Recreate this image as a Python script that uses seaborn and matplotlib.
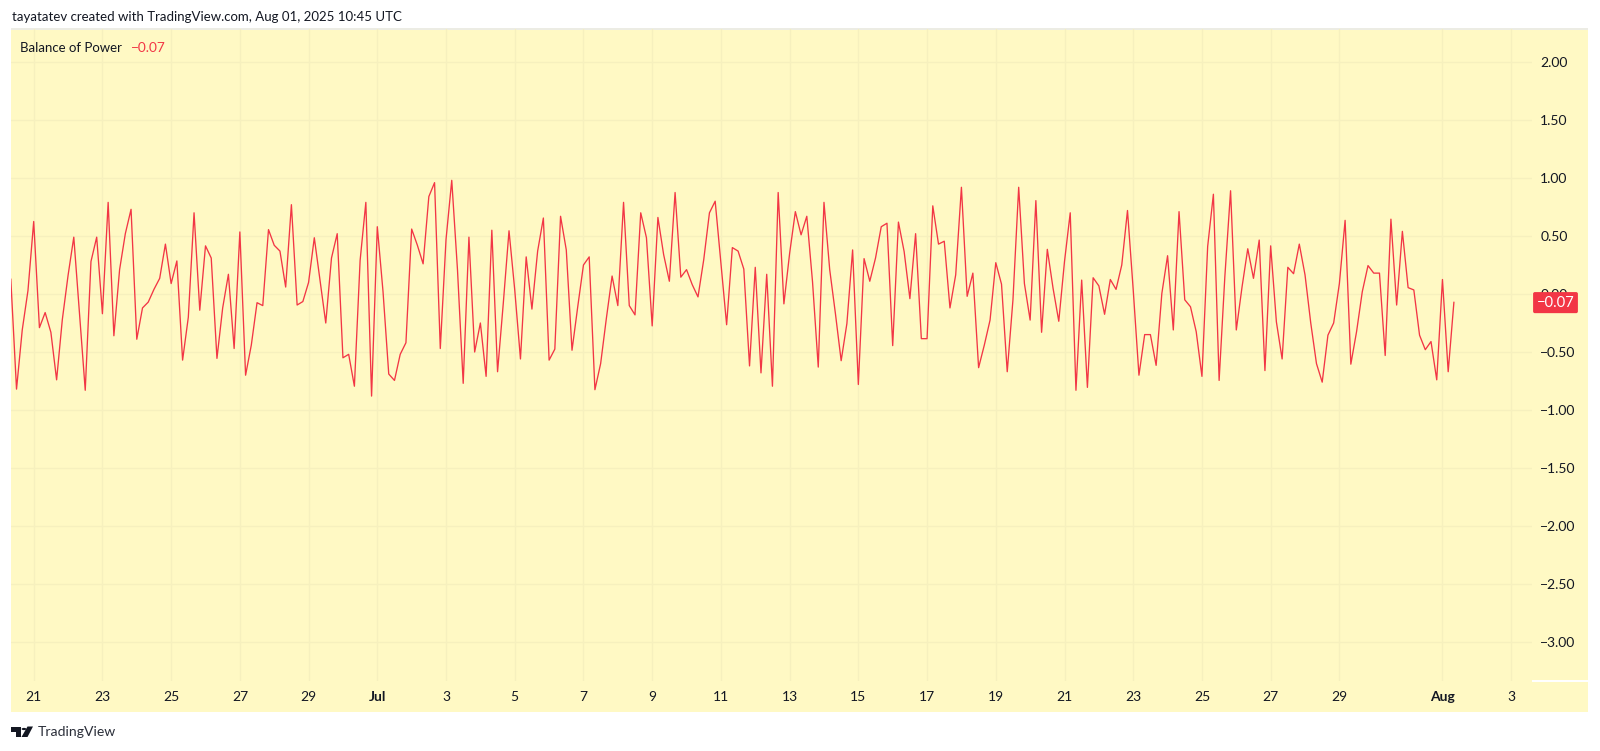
import pandas as pd
import seaborn as sns
import matplotlib.pyplot as plt
import matplotlib.dates as mdates
from matplotlib.patches import Polygon, Rectangle, Circle

FIG_W, FIG_H = 1600, 751
PANE_L, PANE_R, PANE_T, PANE_B = 11, 1532, 29, 681

BG = '#FFF9C4'
GRID = '#F6F0BE'
RED = '#F23645'
TEXT = '#131722'

# 4h bars
start = '2025-06-20 08:00'
bop = [
    0.13, -0.82, -0.31, 0.03, 0.625, -0.29, -0.16, -0.33, -0.74, -0.22,
    0.16, 0.49, -0.17, -0.83, 0.28, 0.49, -0.17, 0.79, -0.36, 0.21,
    0.52, 0.73, -0.39, -0.12, -0.07, 0.04, 0.135, 0.43, 0.09, 0.285,
    -0.57, -0.20, 0.70, -0.14, 0.415, 0.31, -0.555, -0.12, 0.17, -0.47,
    0.535, -0.70, -0.44, -0.075, -0.10, 0.555, 0.42, 0.37, 0.06, 0.77,
    -0.095, -0.065, 0.10, 0.485, 0.12, -0.25, 0.31, 0.52, -0.55, -0.52,
    -0.795, 0.29, 0.79, -0.88, 0.58, 0.02, -0.69, -0.745, -0.52, -0.42,
    0.56, 0.42, 0.26, 0.84, 0.96, -0.47, 0.47, 0.98, 0.21, -0.77,
    0.49, -0.50, -0.25, -0.71, 0.55, -0.67, -0.08, 0.545, 0.035, -0.56,
    0.32, -0.13, 0.37, 0.655, -0.57, -0.475, 0.67, 0.38, -0.485, -0.11,
    0.25, 0.32, -0.825, -0.60, -0.21, 0.155, -0.10, 0.79, -0.10, -0.18,
    0.70, 0.485, -0.275, 0.66, 0.34, 0.11, 0.875, 0.145, 0.21, 0.08,
    -0.025, 0.295, 0.70, 0.80, 0.265, -0.265, 0.40, 0.37, 0.215, -0.62,
    0.23, -0.68, 0.17, -0.795, 0.875, -0.085, 0.35, 0.71, 0.51, 0.67,
    0.105, -0.63, 0.79, 0.21, -0.17, -0.575, -0.255, 0.38, -0.78, 0.305,
    0.11, 0.31, 0.58, 0.61, -0.445, 0.62, 0.365, -0.04, 0.52, -0.385,
    -0.385, 0.76, 0.43, 0.455, -0.12, 0.165, 0.92, -0.02, 0.18, -0.635,
    -0.44, -0.225, 0.27, 0.085, -0.67, -0.05, 0.92, 0.09, -0.225, 0.805,
    -0.33, 0.385, 0.05, -0.235, 0.28, 0.70, -0.83, 0.12, -0.805, 0.14,
    0.07, -0.175, 0.125, 0.04, 0.25, 0.72, 0.035, -0.70, -0.35, -0.35,
    -0.615, 0.005, 0.33, -0.31, 0.71, -0.05, -0.11, -0.325, -0.71, 0.41,
    0.86, -0.745, 0.15, 0.89, -0.31, 0.06, 0.39, 0.135, 0.465, -0.66,
    0.415, -0.24, -0.56, 0.23, 0.175, 0.43, 0.165, -0.25, -0.60, -0.76,
    -0.355, -0.25, 0.09, 0.635, -0.605, -0.325, 0.02, 0.245, 0.18, 0.18,
    -0.53, 0.645, -0.095, 0.54, 0.055, 0.035, -0.355, -0.48, -0.41, -0.74,
    0.125, -0.67, -0.07,
]
tick_dates = ['2025-06-21', '2025-06-23', '2025-06-25', '2025-06-27', '2025-06-29',
              '2025-07-01', '2025-07-03', '2025-07-05', '2025-07-07', '2025-07-09',
              '2025-07-11', '2025-07-13', '2025-07-15', '2025-07-17', '2025-07-19',
              '2025-07-21', '2025-07-23', '2025-07-25', '2025-07-27', '2025-07-29',
              '2025-08-01', '2025-08-03']
tick_labels = ['21', '23', '25', '27', '29', 'Jul', '3', '5', '7', '9', '11', '13',
               '15', '17', '19', '21', '23', '25', '27', '29', 'Aug', '3']
y_ticks = [2.0, 1.5, 1.0, 0.5, 0.0, -0.5, -1.0, -1.5, -2.0, -2.5, -3.0]

sns.set_theme(style='white')
plt.rcParams['font.family'] = ['Lato', 'DejaVu Sans']

df = pd.DataFrame({'time': pd.date_range(start, periods=len(bop), freq='4h'), 'bop': bop})

fig = plt.figure(figsize=(FIG_W / 100, FIG_H / 100), dpi=100, facecolor='white')

def px_box(l, t, r, b):
    return [l / FIG_W, 1 - b / FIG_H, (r - l) / FIG_W, (b - t) / FIG_H]

def px(x, y):
    return x / FIG_W, 1 - y / FIG_H

def minus(v):
    return f'{v:.2f}'.replace('-', '\u2212')

# whole yellow panel incl. price and time scale
l, bot, w, h = px_box(11, 29, 1588, 712)
fig.add_artist(Rectangle((l, bot), w, h, transform=fig.transFigure, facecolor=BG, edgecolor='none', zorder=-5))
fig.add_artist(Rectangle((l, 1 - 30 / FIG_H), w, 1.5 / FIG_H, transform=fig.transFigure, facecolor='#ECECE4', edgecolor='none', zorder=-4))

ax = fig.add_axes(px_box(PANE_L, PANE_T, PANE_R, PANE_B))
ax.patch.set_alpha(0)
sns.lineplot(data=df, x='time', y='bop', ax=ax, color=RED, linewidth=0.95, errorbar=None, zorder=3)

# axis limits so the scales land on the same pixels as the screenshot
day_px = 34.36
x0 = mdates.date2num(pd.Timestamp('2025-06-21'))
ax.set_xlim(x0 + (PANE_L - 33.7) / day_px, x0 + (PANE_R - 33.7) / day_px)
ax.set_ylim((294 - PANE_B) / 116, (294 - PANE_T) / 116)

ax.set_xlabel('')
ax.set_ylabel('')
ax.set_xticks(pd.to_datetime(tick_dates))
ax.set_xticklabels(tick_labels)
ax.yaxis.tick_right()
ax.set_yticks(y_ticks)
ax.set_yticklabels([minus(v) for v in y_ticks])
ax.tick_params(axis='x', length=0, pad=7.5, labelsize=10, labelcolor=TEXT)
ax.tick_params(axis='y', length=0, pad=6, labelsize=10, labelcolor=TEXT)
for lab, txt in zip(ax.get_xticklabels(), tick_labels):
    if txt in ('Jul', 'Aug'):
        lab.set_fontweight('bold')
ax.grid(True, color=GRID, linewidth=1.0, zorder=0)
ax.set_axisbelow(True)
for s in ax.spines.values():
    s.set_visible(False)

# white rule under the price scale
x1, _ = px(1532, 0)
fig.add_artist(Rectangle((x1, 1 - 681.5 / FIG_H), 56 / FIG_W, 1.2 / FIG_H, transform=fig.transFigure, facecolor='white', edgecolor='none'))

# last value tag
last = bop[-1]
tag_x, tag_y = px(1555.5, 294 - last * 116 + 0.5)
fig.text(tag_x, tag_y, minus(last), color='white', fontsize=10.6, ha='center', va='center', zorder=10,
         bbox=dict(boxstyle='round,pad=0.24,rounding_size=0.12', facecolor=RED, edgecolor='none'))

# header and legend
fig.text(*px(11.5, 17), 'tayatatev created with TradingView.com, Aug 01, 2025 10:45 UTC', fontsize=9.5, color=TEXT, va='center')
fig.text(*px(20.5, 47.5), 'Balance of Power', fontsize=9.5, color=TEXT, va='center')
fig.text(*px(131, 47.5), minus(last), fontsize=9.8, color=RED, va='center')

# TradingView mark + wordmark
def logo_poly(pts):
    return Polygon([px(x, y) for x, y in pts], closed=True, transform=fig.transFigure, facecolor=TEXT, edgecolor='none')

fig.add_artist(logo_poly([(11, 726.5), (21, 726.5), (21, 737), (16, 737), (16, 731.5), (11, 731.5)]))
fig.add_artist(logo_poly([(27.5, 726.5), (33, 726.5), (27.5, 737), (21.5, 737)]))
c = px(24, 729)
fig.add_artist(Circle(c, 2.4 / FIG_W, transform=fig.transFigure, facecolor=TEXT, edgecolor='none'))
fig.text(*px(38, 732), 'TradingView', fontsize=10.1, color='#2A2E39', va='center')

fig.savefig('out.png', dpi=100)
